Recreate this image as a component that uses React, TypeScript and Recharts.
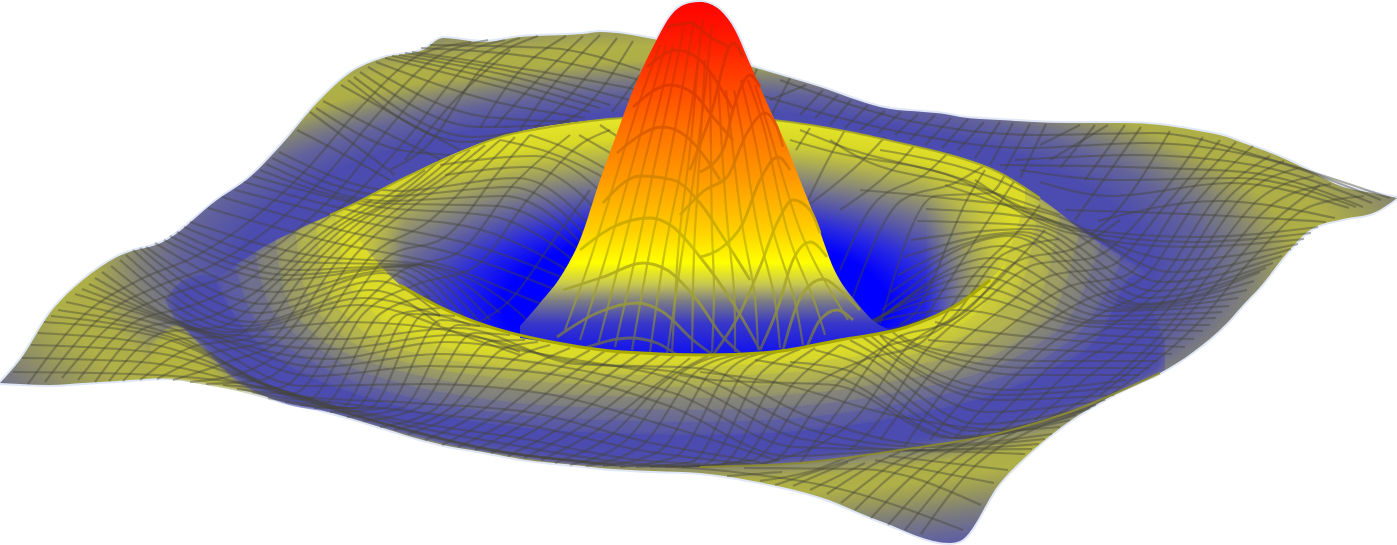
import { ComposedChart, Area, Line, XAxis, YAxis } from 'recharts';

type Pt = [number, number];
type Band = [number, number, number];

// all values, in picture pixels: [x, y] or [x, upper y, lower y]
const sheet: Band[] = [
  [0,383,383],[20,360,384],[50,313,385],[83,280,383],[117,257,381],[167,240,378],[217,200,385],[250,177,392],
  [283,143,402],[317,103,409],[350,73,418],[383,58,428],[423,50,440],[443,38,445],[483,42,452],[520,37,459],
  [583,34,466],[600,32,468],[653,39,471],[700,50,473],[753,67,481],[820,87,497],[880,107,521],[950,115,543],
  [960,117,541],[1000,120,483],[1033,122,450],[1067,123,423],[1127,123,388],[1160,125,373],[1193,130,352],
  [1227,137,323],[1243,143,305],[1260,149,287],[1287,160,253],[1310,171,230],[1343,187,219],[1373,193,213],[1397,198,198],
];
const trough: Band[] = [
  [165,300,300],[177,285,323],[200,275,343],[233,275,377],[283,275,403],[333,275,413],[400,275,432],[450,275,445],
  [500,275,454],[560,275,463],[600,275,466],[650,275,467],[700,275,467],[800,275,463],[900,275,450],[1000,275,433],
  [1067,275,413],[1130,280,387],[1165,340,370],
];
const leftFlap: Band[] = [[150,345,378],[177,325,380],[200,345,384],[233,379,390],[283,403,404]];

const level1: Band[] = [[215,278,278],[225,272,300],[250,255,335],[300,229,372],[350,206,392],[400,180,407],[500,137,425],[600,120,433],[700,116,435],[800,124,431],[900,143,417],[1000,173,392],[1050,205,370],[1100,243,335],[1135,265,275],[1150,275,275]];
const level2: Band[] = [[235,265,265],[245,259,300],[270,244,335],[300,229,355],[350,206,380],[400,180,395],[500,137,413],[600,120,420],[700,116,422],[800,124,418],[900,143,404],[1000,173,378],[1050,205,355],[1090,236,320],[1120,255,265]];
const level3: Band[] = [[255,252,252],[265,246,295],[290,233,330],[320,220,350],[350,206,367],[400,180,383],[500,137,401],[600,120,408],[700,116,410],[800,124,406],[900,143,392],[1000,173,365],[1040,198,343],[1075,226,310],[1100,243,248]];
const level4: Band[] = [[275,240,240],[285,236,295],[310,224,330],[350,206,355],[400,180,371],[500,137,389],[600,120,396],[700,116,398],[800,124,394],[900,143,380],[1000,173,352],[1030,192,333],[1060,213,300],[1080,230,232]];
const level5: Band[] = [[295,231,231],[305,226,290],[330,215,325],[360,201,347],[400,180,361],[500,137,378],[600,120,385],[700,116,387],[800,124,383],[900,143,369],[980,165,345],[1020,186,320],[1045,202,285],[1060,213,216]];
const level6: Band[] = [[315,222,222],[325,218,285],[350,206,320],[380,190,342],[420,171,354],[500,137,367],[600,120,374],[700,116,376],[800,124,372],[900,143,358],[960,158,338],[1000,173,312],[1025,189,275],[1040,198,200]];
const level7: Band[] = [[335,212,212],[345,208,275],[370,196,310],[400,180,332],[450,157,349],[500,137,357],[600,120,364],[700,116,366],[800,124,362],[900,143,348],[950,155,330],[985,167,303],[1005,176,265],[1015,183,185]];
const ringLevels = [level1, level2, level3, level4, level5, level6, level7];
const levelColors = ['#5d5da2', '#70708e', '#85857a', '#9d9d64', '#b4b44e', '#caca3a', '#dcdc28'];

const bowl: Band[] = [[345,208,212],[360,201,240],[380,190,265],[400,180,285],[440,160,307],[490,140,327],[557,125,343],[623,118,352],[707,116,355],[773,120,352],[840,130,340],[907,145,327],[960,158,303],[990,168,280],[1010,180,250],[1025,189,200]];
const bowlLeftFade: Band[] = [[345,208,212],[360,201,240],[380,190,265],[400,180,285],[420,171,297]];
const bowlRightFade: Band[] = [[925,150,320],[960,158,303],[990,168,280],[1010,180,250],[1025,189,200]];
const peak: Band[] = [[520,326,338],[540,303,341],[563,273,344],[580,240,347],[600,180,350],[617,133,351],[633,90,352],[653,47,353],[673,13,354],[690,3,355],[700,2,355],[710,4,355],[720,10,355],[735,30,354],[747,57,353],[767,103,352],[787,147,350],[800,180,348],[817,223,345],[833,267,342],[857,303,337],[875,322,334],[895,331,331]];

const peakRows: Pt[][] = [
  [[667,27],[690,23],[710,37],[730,47]],
  [[647,67],[677,50],[700,60],[720,87],[733,110]],
  [[633,107],[670,85],[693,93],[713,117],[733,140]],
  [[617,153],[663,127],[687,137],[707,160],[720,180]],
  [[603,203],[640,176],[673,180],[700,203],[723,237],[750,280]],
  [[580,250],[613,227],[650,218],[673,227],[700,257],[733,303],[760,350]],
  [[563,290],[603,277],[643,263],[667,270],[697,300],[723,337],[740,353]],
  [[557,337],[597,313],[637,303],[663,312],[693,340],[713,355]],
  [[587,347],[630,338],[657,343],[677,355]],
  [[713,355],[740,313],[760,267],[777,223],[793,200],[810,210],[820,233]],
  [[760,350],[777,310],[793,260],[810,242],[827,257]],
  [[783,350],[803,293],[823,279],[840,290],[860,310]],
  [[807,347],[820,320],[837,310],[853,320]],
  [[700,172],[723,150],[733,110],[750,75],[760,87]],
  [[690,170],[710,117],[733,43],[743,57]],
  [[680,215],[705,190],[727,177],[747,133],[765,113],[777,127],[783,147]],
  [[700,257],[725,245],[742,225],[760,180],[778,157],[790,170]],
];
const peakCols: Pt[][] = [
  [[660,45],[640,100],[615,180],[590,260],[565,330]],
  [[666,45],[650,100],[628,180],[605,260],[580,340]],
  [[673,45],[660,100],[640,180],[620,260],[598,345]],
  [[685,22],[671,90],[653,173],[637,250],[615,347]],
  [[694,20],[682,90],[666,175],[650,250],[632,350]],
  [[703,20],[694,90],[680,175],[665,250],[650,352]],
  [[712,25],[705,90],[694,175],[681,260],[667,354]],
  [[698,60],[690,150],[680,230],[675,300],[672,352]],
  [[705,60],[700,150],[695,230],[693,290],[692,352]],
  [[710,70],[711,150],[712,230],[714,290],[712,352]],
  [[718,80],[722,150],[728,230],[734,290],[735,352]],
  [[726,90],[733,150],[743,230],[754,290],[758,350]],
  [[734,90],[745,150],[758,230],[773,290],[780,348]],
  [[741,80],[757,150],[773,230],[792,290],[803,345]],
  [[748,80],[767,140],[787,230],[810,290],[825,335]],
  [[755,85],[775,150],[800,230],[827,285],[848,320]],
];

// mesh pieces that sit behind the ring's back edge
const backMesh: Pt[][] = [
  [[297,130],[345,155],[390,180]],[[310,112],[355,145],[395,175]],[[323,101],[380,130],[442,160]],
  [[341,85],[400,118],[460,150]],[[354,77],[473,137],[530,130]],[[368,67],[487,117],[580,122]],
  [[385,58],[504,88],[590,112]],[[399,55],[518,78],[610,105]],[[412,52],[531,70],[650,92]],[[430,45],[549,48],[640,70]],
  [[316,108],[400,150],[450,155]],[[348,80],[466,142],[520,132]],[[360,72],[480,127],[560,125]],
  [[376,62],[496,102],[585,118]],[[392,56],[511,83],[600,108]],[[405,53],[525,74],[630,100]],[[421,48],[540,58],[640,80]],
  [[1098,221],[1217,201],[1335,218]],[[1040,182],[1111,196],[1230,183],[1349,208]],[[1000,165],[1125,167],[1244,172],[1363,207]],
  [[760,95],[906,133],[1025,148],[1144,143],[1262,158],[1381,200]],
  [[1065,210],[1208,215],[1326,222]],[[1020,170],[1118,180],[1237,178],[1356,207]],[[1015,160],[1135,155],[1253,165],[1372,203]],
  [[780,80],[915,122],[1035,135],[1153,133],[1272,160],[1390,198]],
  [[390,170],[427,146],[482,68],[538,36]],[[480,128],[511,81],[566,36]],[[520,130],[545,95],[600,35]],
  [[555,125],[578,114],[633,41]],[[612,112],[640,75]],
  [[405,160],[455,100],[510,50]],[[495,127],[528,90],[583,36]],[[535,128],[562,104],[617,38]],
  [[742,100],[757,69]],[[770,118],[790,78]],[[800,115],[823,90]],[[830,125],[851,100]],[[860,130],[885,111]],
  [[895,135],[918,114]],[[925,145],[951,118]],[[958,150],[984,122]],[[990,165],[1013,123]],[[1020,178],[1046,124]],
  [[1040,145],[1080,125]],[[1050,160],[1108,125]],[[1075,220],[1141,127]],[[1090,235],[1114,214],[1170,131]],
  [[770,100],[806,85]],[[815,118],[838,95]],[[845,128],[868,105]],[[878,133],[901,112]],[[910,140],[935,115]],
  [[942,148],[968,119]],[[975,158],[1000,122]],[[1005,170],[1030,124]],[[1060,168],[1095,125]],[[1085,180],[1125,125]],
];

// mesh pieces running left to right, on the ring, the bowl and the side sheets
const rows: Pt[][] = [
  [[13,372],[132,374],[251,385],[369,420],[488,450],[607,463],[726,471],[844,490],[963,530]],
  [[31,345],[150,352],[269,386],[387,424],[506,452],[625,466]],[[744,468],[863,469],[981,505]],
  [[44,322],[163,338],[282,391],[400,420],[519,438],[638,460],[700,464]],[[875,460],[994,483]],
  [[58,310],[177,336],[296,396],[414,403],[533,413],[652,443],[760,462]],[[889,456],[1008,470]],
  [[75,294],[194,331],[313,376],[431,366],[550,374],[669,406],[788,456],[906,451],[1025,454]],
  [[89,284],[208,334],[327,359],[445,342],[564,358],[683,382],[802,439],[920,450],[1039,444]],
  [[102,272],[221,334],[340,339],[458,328],[577,364],[696,368],[815,419],[933,445],[1052,434]],
  [[120,260],[239,330],[358,305],[476,340],[520,355]],[[680,375],[714,380],[833,385],[952,438],[1070,420]],
  [[133,250],[252,322],[371,290],[440,325]],[[790,362],[846,370],[965,436],[1083,410]],
  [[146,247],[265,304],[384,273],[440,307]],[[840,345],[859,353],[978,424],[1096,405]],
  [[164,240],[283,280],[402,267],[465,318]],[[860,335],[877,347],[995,400],[1114,395]],
  [[177,232],[296,270],[415,265],[490,320]],[[880,335],[890,345],[1008,390],[1127,380]],
  [[190,222],[309,255],[428,265],[510,305],[547,340]],[[880,335],[903,345],[1021,375],[1140,375]],
  [[208,208],[327,241],[446,266],[565,311],[620,320]],[[900,335],[921,346],[1040,361],[1158,361]],
  [[235,190],[354,220],[473,245],[592,290]],[[820,325],[880,330],[925,318]],[[935,322],[948,325],[1066,340],[1185,347]],
  [[253,176],[372,206],[491,216],[610,291]],[[847,331],[966,296],[1084,326],[1203,331]],
  [[266,164],[385,201],[504,196],[623,291]],[[860,331],[979,276],[1097,321],[1216,318]],
  [[279,152],[398,191],[517,178],[636,286]],[[873,326],[992,258],[1110,311],[1229,306]],
  [[440,165],[535,156],[654,252]],[[891,292],[1010,236],[1129,307],[1247,290]],
  [[500,140],[548,152],[667,217]],[[904,257],[1023,232],[1142,304],[1260,272]],
  [[530,135],[561,146],[640,190]],[[917,221],[1036,226],[1155,291],[1273,263]],
  [[579,135],[640,170]],[[860,190],[935,197],[1054,215],[1173,272],[1291,249]],
  [[600,125],[630,145]],[[790,140],[829,151],[948,175],[1066,232],[1185,247],[1304,239]],
  [[800,130],[843,147],[962,179],[1081,229],[1199,237],[1318,227]],
  [[830,140],[860,158],[979,188],[1060,215]],[[880,150],[993,178],[1040,200]],
  [[22,358],[141,362],[260,388],[378,422],[497,451],[616,465]],
  [[38,333],[156,345],[275,388],[393,422],[512,445],[631,463],[700,466]],
  [[51,316],[170,337],[289,393],[407,411],[526,425],[645,451],[750,464]],
  [[66,302],[185,333],[304,386],[422,384],[541,393],[660,424],[779,461]],
  [[82,289],[201,332],[320,367],[438,354],[557,366],[676,394],[795,447],[913,450],[1032,449]],
  [[95,278],[215,334],[333,349],[452,335],[570,361],[690,375],[808,429],[926,447],[1045,439]],
  [[111,266],[230,332],[349,322],[467,334],[520,352]],[[700,372],[773,382],[892,415],[1010,430],[1060,427]],
  [[126,255],[245,326],[364,298],[440,316]],[[755,360],[840,378],[958,438],[1076,415]],
  [[140,248],[258,313],[378,281],[440,315]],[[815,350],[852,361],[971,431],[1090,408]],
  [[155,243],[274,292],[393,270],[452,312]],[[850,340],[868,350],[986,412],[1105,400]],
  [[170,236],[289,275],[408,266],[478,320]],[[870,335],[883,346],[1001,395],[1120,387]],
  [[184,227],[302,262],[421,265],[500,313]],[[890,330],[912,345],[1030,368],[1149,368]],
  [[222,197],[340,230],[460,255],[580,300]],[[928,340],[1053,350],[1172,354]],
  [[244,182],[363,213],[482,230],[600,290]],[[838,331],[957,310],[1075,333],[1194,339]],
  [[260,170],[378,203],[497,206],[620,290]],[[854,331],[972,286],[1090,323],[1210,325]],
  [[272,158],[391,196],[510,187],[630,290]],[[866,328],[985,267],[1103,316],[1222,312]],
  [[445,175],[526,167],[645,269]],[[882,310],[1001,246],[1120,309],[1238,298]],
  [[898,275],[1016,234],[1135,305],[1254,281]],[[911,240],[1030,229],[1148,298],[1266,268]],
  [[926,209],[1045,220],[1164,282],[1282,256]],[[945,185],[1060,223],[1180,260],[1298,244]],
  [[975,180],[1072,230],[1192,242],[1311,233]],
];

// mesh pieces running from the lower edge up and to the right
const cols: Pt[][] = [
  [[28,384],[84,315],[139,280],[194,257],[250,221],[305,171],[360,108],[416,57],[471,42]],
  [[62,378],[117,320],[173,294],[228,276],[283,241],[339,190],[394,122],[449,62],[505,40]],
  [[95,382],[150,326],[206,318],[261,288],[317,237],[372,200]],
  [[123,381],[179,339],[234,336],[289,280],[345,227],[400,194],[440,160]],
  [[157,379],[212,353],[268,341],[323,265],[378,215],[434,179],[470,150]],
  [[190,382],[245,372],[301,334],[356,254],[412,207],[467,168],[500,140]],
  [[223,385],[278,388],[334,327],[389,256],[445,237],[500,170],[530,135]],
  [[252,392],[307,400],[363,314],[418,284],[473,268],[529,198],[584,142],[610,130]],
  [[285,402],[340,408],[396,315],[440,308]],[[480,322],[506,304],[562,228],[590,190]],
  [[314,408],[369,408],[425,314],[470,325]],[[520,330],[535,319],[572,270]],
  [[347,417],[402,408],[458,325],[490,327]],[[520,335],[545,305]],
  [[380,427],[435,409],[491,341],[525,340]],[[408,434],[463,409],[519,356],[550,345]],
  [[442,445],[497,415],[553,372],[590,350]],[[475,450],[530,420],[586,377],[620,352]],
  [[508,456],[563,426],[619,383],[660,354]],[[541,460],[596,431],[652,388],[690,358]],
  [[570,465],[625,441],[681,373],[725,354]],[[603,466],[658,452],[714,369],[748,355]],
  [[636,467],[691,462],[747,368],[785,350]],[[665,467],[720,465],[776,379],[815,348]],
  [[698,466],[753,460],[809,390],[864,360],[919,344],[975,274],[1030,218],[1040,205]],
  [[727,476],[782,472]],
  [[800,463],[838,411],[893,340],[948,321],[1004,254],[1059,239]],
  [[760,481],[815,470],[845,458]],
  [[850,450],[871,430],[926,350],[982,303],[1037,264],[1092,258],[1148,210],[1203,137]],
  [[793,486],[848,462]],
  [[904,447],[959,372],[1015,322],[1070,286],[1125,276],[1181,202],[1236,142]],
  [[827,494],[882,460],[900,452]],
  [[955,438],[993,398],[1049,345],[1104,312],[1159,282],[1215,199],[1270,156]],
  [[855,510],[910,462],[966,440]],
  [[1000,432],[1021,416],[1077,365],[1132,330],[1187,274],[1243,196],[1298,168]],
  [[888,525],[943,468],[999,434],[1054,416],[1110,381],[1165,330],[1220,262],[1276,202],[1331,184]],
  [[921,534],[976,465],[1032,430],[1087,409],[1143,371],[1198,323],[1253,258],[1309,207],[1364,196]],
  [[900,325],[913,315],[969,196],[985,170]],[[925,318],[942,292],[997,207],[1015,180]],
  [[796,150],[810,128]],[[808,200],[830,156],[845,130]],[[810,204],[862,161],[885,137]],[[840,210],[895,167],[915,145]],
  [[840,270],[873,205],[928,172],[948,153]],[[847,313],[902,200],[957,182],[985,165]],[[880,324],[935,196],[990,193],[1005,175]],
  [[45,382],[100,318],[156,287],[211,266],[266,231],[322,180],[377,115],[432,60],[488,40]],
  [[78,380],[133,323],[190,306],[245,282],[300,239],[355,195],[410,135],[466,66],[520,38]],
  [[109,381],[165,332],[220,327],[275,284],[331,232],[386,197],[425,170]],
  [[140,380],[195,346],[251,338],[306,272],[361,221],[417,186],[455,155]],
  [[173,380],[228,362],[284,337],[339,259],[395,211],[450,173],[485,145]],
  [[206,384],[261,380],[317,330],[372,255],[428,222],[483,169],[515,137]],
  [[237,389],[292,394],[348,320],[403,270],[459,252],[514,184],[570,135]],
  [[268,398],[323,404],[380,314],[430,296]],[[300,405],[355,408],[410,314],[455,316]],
  [[330,412],[385,408],[441,320],[480,326]],[[363,421],[418,408],[474,333],[510,335]],
  [[394,430],[449,409],[505,348],[538,342]],[[425,440],[480,412],[536,364],[570,348]],
  [[458,447],[513,418],[570,375],[605,351]],[[491,453],[546,423],[602,380],[640,353]],
  [[524,458],[579,428],[635,386],[675,355]],[[555,463],[610,436],[666,380],[708,356]],
  [[586,466],[641,446],[697,371],[737,355]],[[620,467],[675,457],[731,368],[767,352]],
  [[650,467],[705,464],[761,373],[800,349]],[[682,467],[737,462],[793,384],[840,345]],
  [[712,466],[770,462],[822,400],[878,350],[933,333],[990,288],[1045,230]],
  [[760,464],[854,420],[909,345],[965,312],[1020,260],[1076,248],[1120,220]],
  [[880,440],[943,360],[998,312],[1053,275],[1108,267],[1165,206],[1220,140]],
  [[930,440],[976,385],[1032,333],[1087,299],[1142,279],[1198,200],[1253,146]],
  [[978,435],[1007,408],[1063,355],[1118,321],[1173,278],[1229,197],[1284,161]],
  [[1035,420],[1093,373],[1148,330],[1203,268],[1259,199],[1314,176]],
  [[1100,395],[1154,350],[1209,292],[1264,230],[1320,185]],
  [[775,485],[832,466],[866,455]],[[810,490],[865,463]],[[841,503],[896,462],[925,448]],[[871,518],[926,465],[983,437]],[[905,530],[960,467],[1015,432]],
];

const backEdge: Pt[] = [[330,215],[350,206],[400,180],[450,157],[500,137],[550,127],[623,118],[700,116],[773,120],[850,132],[900,143],[950,155],[1000,173],[1040,198]];
const lip: Pt[] = [[400,285],[440,307],[490,327],[557,343],[623,352],[707,355],[773,352],[840,340],[907,327],[960,303],[990,280]];
const foldRight: Pt[] = [[700,467],[800,463],[900,450],[1000,433],[1067,413],[1160,373]];

const toBand = (rows: Band[]) => rows.map(([x, a, b]) => ({ x, band: [a, b] }));
const toPts = (pts: Pt[]) => pts.map(([x, y]) => ({ x, y }));

const meshColor = '#45453a';

function bandArea(key: string, rows: Band[], fill: string, z: number, filter?: string) {
  return (
    <Area key={key} data={toBand(rows)} dataKey="band" type="monotone" fill={fill} fillOpacity={1} filter={filter}
      stroke="none" dot={false} activeDot={false} isAnimationActive={false} zIndex={z} />
  );
}

function stroke(key: string, pts: Pt[], color: string, width: number, opacity: number, z: number, type: any = 'monotone') {
  return (
    <Line key={key} data={toPts(pts)} dataKey="y" type={type} stroke={color} strokeWidth={width} strokeOpacity={opacity}
      dot={false} activeDot={false} isAnimationActive={false} zIndex={z} />
  );
}

export default function App() {
  return (
    <div style={{ position: 'absolute', left: 0, top: 0 }}>
      <ComposedChart width={1397} height={545} margin={{ top: 0, right: 0, bottom: 0, left: 0 }}>
        <defs>
          <filter id="soft" x="-5%" y="-5%" width="110%" height="110%" colorInterpolationFilters="sRGB">
            <feGaussianBlur in="SourceGraphic" stdDeviation="6" result="b" />
            <feComposite in="b" in2="SourceAlpha" operator="in" />
          </filter>
          <radialGradient id="outer" gradientUnits="userSpaceOnUse" cx={0} cy={0} r={828} gradientTransform="translate(695,270) scale(1,0.348)">
            <stop offset="0" stopColor="#4b4bb0" />
            <stop offset="0.55" stopColor="#4b4bb0" />
            <stop offset="0.62" stopColor="#62629c" />
            <stop offset="0.67" stopColor="#80807a" />
            <stop offset="0.73" stopColor="#aeae48" />
            <stop offset="0.78" stopColor="#b0b048" />
            <stop offset="0.83" stopColor="#9c9c58" />
            <stop offset="0.9" stopColor="#7c7c7c" />
            <stop offset="1" stopColor="#5c5ca8" />
          </radialGradient>
          <radialGradient id="wall" gradientUnits="userSpaceOnUse" cx={0} cy={0} r={480} gradientTransform="translate(695,305) scale(1,0.39)">
            <stop offset="0" stopColor="#0000ff" />
            <stop offset="0.4" stopColor="#0000ff" />
            <stop offset="0.5" stopColor="#2a2ae0" />
            <stop offset="0.58" stopColor="#5050b0" />
            <stop offset="0.69" stopColor="#808080" />
            <stop offset="0.8" stopColor="#b0b050" />
            <stop offset="0.9" stopColor="#d8d828" />
            <stop offset="1" stopColor="#e4e428" />
          </radialGradient>
          <linearGradient id="leftFade" gradientUnits="userSpaceOnUse" x1={345} y1={0} x2={405} y2={0}>
            <stop offset="0" stopColor="#dcdc28" stopOpacity={1} />
            <stop offset="1" stopColor="#dcdc28" stopOpacity={0} />
          </linearGradient>
          <linearGradient id="rightFade" gradientUnits="userSpaceOnUse" x1={925} y1={0} x2={1015} y2={0}>
            <stop offset="0" stopColor="#dcdc28" stopOpacity={0} />
            <stop offset="1" stopColor="#dcdc28" stopOpacity={1} />
          </linearGradient>
          <linearGradient id="peakFill" gradientUnits="userSpaceOnUse" x1={0} y1={0} x2={0} y2={355}>
            <stop offset="0" stopColor="#ff0000" />
            <stop offset="0.13" stopColor="#ff2000" />
            <stop offset="0.36" stopColor="#ff7000" />
            <stop offset="0.5" stopColor="#ff9800" />
            <stop offset="0.65" stopColor="#ffd000" />
            <stop offset="0.74" stopColor="#ffff00" />
            <stop offset="0.8" stopColor="#c8c850" />
            <stop offset="0.85" stopColor="#7a7a86" />
            <stop offset="0.91" stopColor="#3838c8" />
            <stop offset="1" stopColor="#1010f0" />
          </linearGradient>
          <linearGradient id="peakLine" gradientUnits="userSpaceOnUse" x1={0} y1={0} x2={0} y2={355}>
            <stop offset="0" stopColor="#d81000" />
            <stop offset="0.28" stopColor="#e04000" />
            <stop offset="0.48" stopColor="#d88000" />
            <stop offset="0.7" stopColor="#c8c000" />
            <stop offset="0.85" stopColor="#9a9a40" />
            <stop offset="1" stopColor="#4a4a78" />
          </linearGradient>
        </defs>
        <XAxis type="number" dataKey="x" domain={[0, 1397]} hide />
        <YAxis type="number" domain={[0, 545]} reversed hide />

        {stroke('haloTop', sheet.map(([x, a]) => [x, a] as Pt), '#dfe7f7', 4, 1, 1)}
        {stroke('haloBottom', sheet.map(([x, , b]) => [x, b] as Pt), '#dfe7f7', 4, 1, 1)}
        {stroke('haloPeak', peak.map(([x, a]) => [x, a] as Pt), '#dfe7f7', 4, 1, 1)}
        {bandArea('sheet', sheet, 'url(#outer)', 2)}
        {backMesh.map((p, i) => stroke(`back${i}`, p, meshColor, 2.2, 0.45, 3))}
        {bandArea('trough', trough, '#4b4bb0', 4, 'url(#soft)')}
        {bandArea('leftFlap', leftFlap, '#b4b440', 4, 'url(#soft)')}
        {ringLevels.map((l, i) => bandArea(`level${i}`, l, levelColors[i], 5 + i, 'url(#soft)'))}
        {bandArea('bowl', bowl, 'url(#wall)', 13)}
        {bandArea('bowlLeftFade', bowlLeftFade, 'url(#leftFade)', 13)}
        {bandArea('bowlRightFade', bowlRightFade, 'url(#rightFade)', 13)}
        {rows.map((p, i) => stroke(`row${i}`, p, meshColor, 2.2, 0.42, 14))}
        {cols.map((p, i) => stroke(`col${i}`, p, meshColor, 2.2, 0.42, 14))}
        {stroke('backEdge', backEdge, '#a8a820', 2, 0.9, 15)}
        {stroke('fold', foldRight, '#8c8c30', 2, 0.9, 15)}
        {bandArea('peak', peak, 'url(#peakFill)', 16)}
        {peakCols.map((p, i) => stroke(`peakCol${i}`, p, 'url(#peakLine)', 2.2, 0.85, 17, 'natural'))}
        {peakRows.map((p, i) => stroke(`peakRow${i}`, p, 'url(#peakLine)', 2.8, 0.95, 18))}
        {stroke('lip', lip, '#a8a800', 3, 1, 19)}
      </ComposedChart>
    </div>
  );
}
